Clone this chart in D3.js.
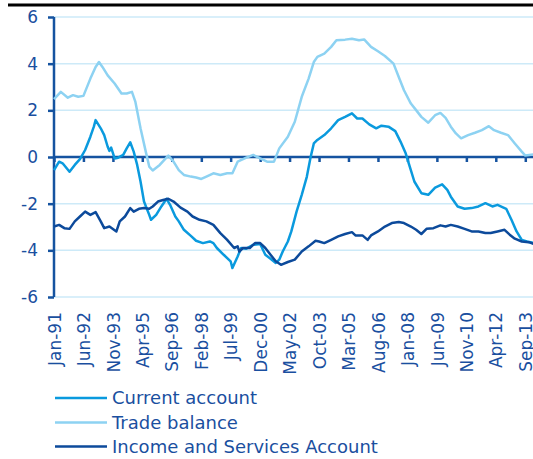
<!DOCTYPE html>
<html>
<head>
<meta charset="utf-8">
<script src="https://cdn.jsdelivr.net/npm/d3@7"></script>
<style>
  html, body { margin: 0; padding: 0; background: #ffffff; }
  svg { display: block; }
  text { font-family: "DejaVu Sans", Verdana, sans-serif; fill: #1a4f9f; }
</style>
</head>
<body>
<svg id="chart" width="533" height="459"></svg>
<script>
// ---------- data (months counted from Jan-1991) ----------
const tickLabels = ["Jan-91","Jun-92","Nov-93","Apr-95","Sep-96","Feb-98","Jul-99","Dec-00",
  "May-02","Oct-03","Mar-05","Aug-06","Jan-08","Jun-09","Nov-10","Apr-12","Sep-13"];
const yTicks = [-6, -4, -2, 0, 2, 4, 6];
const seriesNames = ["Current account", "Trade balance", "Income and Services Account"];

const currentMonths = [0,3,5,9,12,15,18,21,23,24,27,29,31,32,33,35,37,40,42,44,46,48,50,52,55,56,59,62,65,67,70,72,75,79,82,86,90,92,94,98,102,103,106,108,111,115,119,122,125,128,130,132,135,137,140,143,146,148,150,152,156,160,164,168,172,175,178,182,186,189,193,197,200,203,205,208,212,216,220,224,227,229,233,237,241,245,249,253,256,261,264,267,270,273,277];
const currentValues = [-0.56,-0.2,-0.27,-0.63,-0.34,-0.09,0.3,0.87,1.3,1.58,1.23,0.94,0.44,0.26,0.4,-0.06,-0.03,0.09,0.37,0.63,0.23,-0.34,-1.05,-1.91,-2.48,-2.69,-2.48,-2.12,-1.79,-2.05,-2.55,-2.76,-3.12,-3.38,-3.59,-3.69,-3.62,-3.69,-3.9,-4.19,-4.47,-4.76,-4.26,-3.9,-3.93,-3.76,-3.73,-4.19,-4.36,-4.54,-4.4,-4.05,-3.62,-3.19,-2.34,-1.62,-0.84,-0.06,0.58,0.73,0.94,1.23,1.58,1.72,1.87,1.65,1.65,1.4,1.23,1.34,1.3,1.11,0.66,0.16,-0.34,-1.05,-1.55,-1.62,-1.31,-1.17,-1.41,-1.7,-2.12,-2.22,-2.19,-2.12,-1.98,-2.12,-2.05,-2.22,-2.69,-3.19,-3.55,-3.62,-3.69];

const tradeMonths = [0,4,8,11,14,17,21,24,26,28,31,35,39,42,45,47,50,53,55,57,61,66,69,72,75,79,82,85,88,92,96,100,103,106,111,115,119,123,127,130,135,139,143,147,150,152,156,160,163,168,172,176,179,183,187,191,196,199,202,206,209,212,216,220,223,226,229,232,235,239,243,247,251,254,258,262,266,270,272,277];
const tradeValues = [2.48,2.79,2.54,2.65,2.58,2.62,3.36,3.86,4.07,3.86,3.5,3.15,2.72,2.72,2.79,2.36,1.23,0.23,-0.41,-0.58,-0.34,0.06,-0.2,-0.56,-0.77,-0.84,-0.88,-0.94,-0.84,-0.7,-0.77,-0.7,-0.7,-0.2,-0.03,0.09,-0.06,-0.2,-0.2,0.37,0.87,1.51,2.58,3.36,4.07,4.29,4.43,4.72,5.0,5.03,5.07,5.0,5.04,4.72,4.53,4.33,4.0,3.43,2.86,2.29,2.01,1.72,1.47,1.79,1.89,1.68,1.3,1.01,0.8,0.94,1.04,1.15,1.32,1.15,1.04,0.94,0.58,0.23,0.06,0.11];

const incomeMonths = [0,3,6,9,12,15,18,21,24,27,29,32,36,38,41,44,46,49,52,55,57,60,63,66,69,73,77,80,84,88,92,96,100,104,106,107,109,113,116,119,122,125,128,131,135,139,143,147,151,153,156,160,164,168,172,174,178,181,183,187,191,195,199,202,206,209,212,215,219,223,226,229,233,237,241,245,249,252,256,260,263,266,270,274,277];
const incomeValues = [-2.98,-2.91,-3.05,-3.08,-2.76,-2.55,-2.34,-2.48,-2.36,-2.76,-3.05,-2.98,-3.19,-2.76,-2.55,-2.19,-2.34,-2.22,-2.19,-2.22,-2.12,-1.91,-1.84,-1.79,-1.91,-2.17,-2.34,-2.55,-2.69,-2.76,-2.91,-3.26,-3.55,-3.9,-3.83,-4.05,-3.9,-3.9,-3.69,-3.69,-3.9,-4.19,-4.47,-4.62,-4.5,-4.4,-4.05,-3.83,-3.59,-3.62,-3.69,-3.55,-3.4,-3.3,-3.22,-3.36,-3.36,-3.55,-3.36,-3.19,-2.98,-2.83,-2.79,-2.83,-2.98,-3.12,-3.3,-3.08,-3.05,-2.93,-2.98,-2.91,-2.98,-3.08,-3.19,-3.19,-3.26,-3.26,-3.19,-3.12,-3.33,-3.5,-3.62,-3.65,-3.73];

const colors = ["#0a9ade", "#8dd2f2", "#0c4a9b"];

// ---------- setup ----------
const start = new Date(1991, 0, 1);
const toDate = m => d3.timeMonth.offset(start, m);
const svg = d3.select("#chart");

const x = d3.scaleTime().domain([start, toDate(277)]).range([54, 534]);
const y = d3.scaleLinear().domain([-6, 6]).range([297, 17]);

// top rule
svg.append("line").attr("x1", 8).attr("x2", 533).attr("y1", 5).attr("y2", 5)
  .attr("stroke", "#000").attr("stroke-width", 3);

// gridlines
svg.append("g").selectAll("line").data(yTicks.filter(d => d !== 0)).join("line")
  .attr("x1", 54).attr("x2", 533).attr("y1", d => y(d)).attr("y2", d => y(d))
  .attr("stroke", "#cdeaf8").attr("stroke-width", 1.5);

// y axis
const yAxis = svg.append("g").attr("transform", "translate(54,0)")
  .call(d3.axisLeft(y).tickValues(yTicks).tickSize(6).tickPadding(10).tickFormat(d => String(d)));
yAxis.select(".domain").attr("stroke", "#1553a0").attr("stroke-width", 2.5)
  .attr("d", `M0,${y(-6)}V${y(6)}`);
yAxis.selectAll(".tick line").attr("stroke", "#1553a0").attr("stroke-width", 2.5);
yAxis.selectAll("text").style("font-family", "DejaVu Sans").style("font-size", "17px").attr("fill", "#1a4f9f");

// x axis at zero
const tickDates = tickLabels.map((d, i) => toDate(17 * i));
const xAxis0 = svg.append("g").attr("transform", `translate(0,${y(0)})`)
  .call(d3.axisBottom(x).tickValues(tickDates).tickSize(5).tickFormat(""));
xAxis0.select(".domain").attr("stroke", "#1553a0").attr("stroke-width", 2.5)
  .attr("d", `M54,0H533`);
xAxis0.selectAll(".tick line").attr("stroke", "#1553a0").attr("stroke-width", 2.5);

// x labels at bottom
const xAxisLab = svg.append("g").attr("transform", `translate(0,${y(-6)})`)
  .call(d3.axisBottom(x).tickValues(tickDates).tickSize(0).tickFormat((d, i) => tickLabels[i]));
xAxisLab.select(".domain").remove();
xAxisLab.selectAll("text")
  .style("font-family", "DejaVu Sans").style("font-size", "17px").attr("fill", "#1a4f9f")
  .attr("text-anchor", "end")
  .attr("transform", "rotate(-90)")
  .attr("x", -15).attr("y", 0).attr("dy", "0.36em");

// series
const line = d3.line().x(d => x(d.date)).y(d => y(d.value));
const series = [
  {months: currentMonths, values: currentValues},
  {months: tradeMonths, values: tradeValues},
  {months: incomeMonths, values: incomeValues}
];
series.forEach((s, i) => {
  const pts = s.months.map((m, j) => ({date: toDate(m), value: s.values[j]}));
  svg.append("path").datum(pts).attr("d", line)
    .attr("fill", "none").attr("stroke", colors[i]).attr("stroke-width", 2.5)
    .attr("stroke-linejoin", "round");
});

// legend
const legY = [398, 422.5, 446.5];
const leg = svg.append("g");
seriesNames.forEach((name, i) => {
  leg.append("line").attr("x1", 55).attr("x2", 107).attr("y1", legY[i]).attr("y2", legY[i])
    .attr("stroke", colors[i]).attr("stroke-width", 2.5);
  leg.append("text").attr("x", 112).attr("y", legY[i]).attr("dy", "0.36em")
    .style("font-size", "18px").text(name);
});
</script>
</body>
</html>
